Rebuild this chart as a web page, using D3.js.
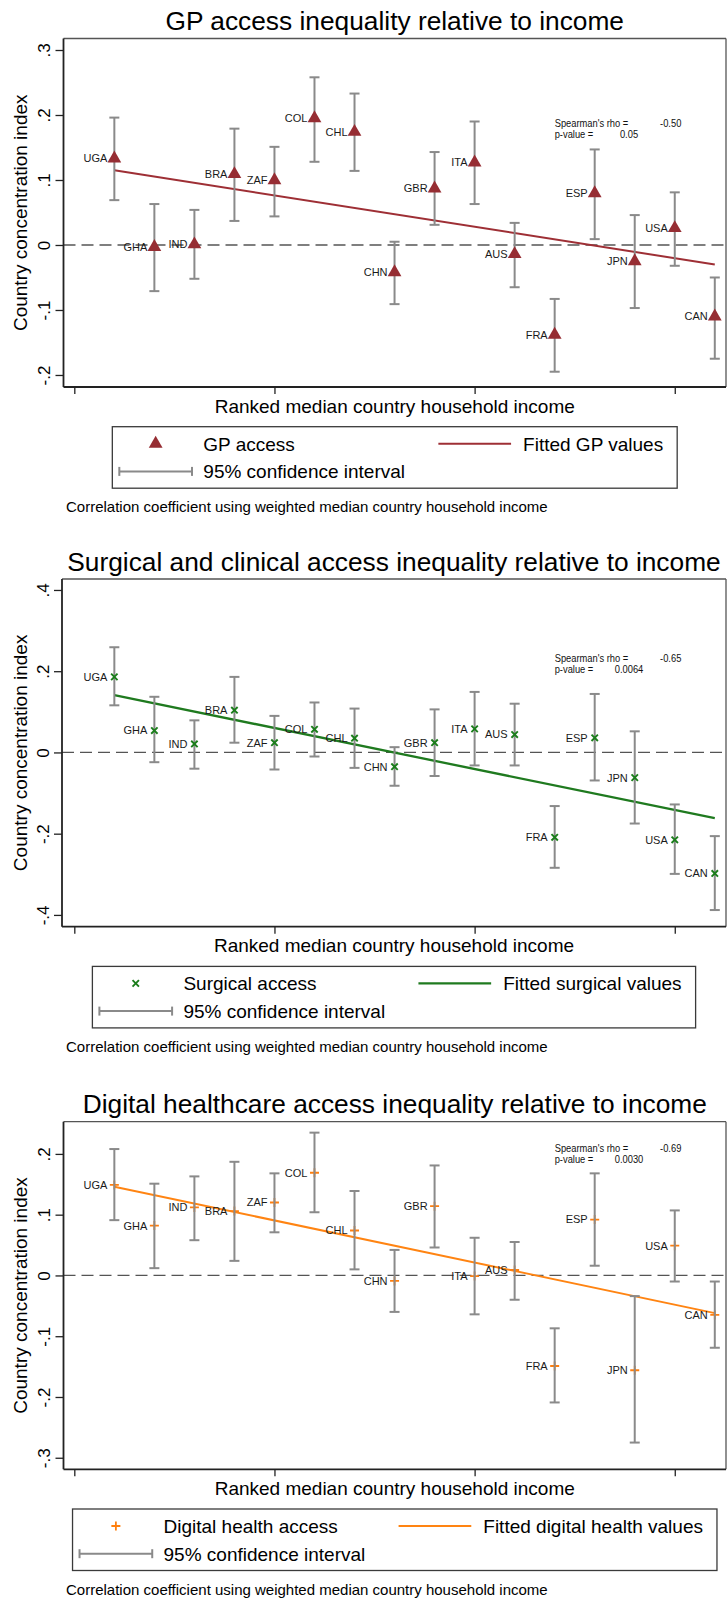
<!DOCTYPE html>
<html>
<head>
<meta charset="utf-8">
<script src="https://cdn.jsdelivr.net/npm/d3@7"></script>
<style>
  html, body { margin: 0; padding: 0; background: #fff; }
  svg { display: block; font-family: "Liberation Sans", Arial, Helvetica, sans-serif; }
</style>
</head>
<body>
<svg id="chart" width="728" height="1598"></svg>
<script>
// ---- Data -------------------------------------------------------------
const countries  = ["UGA","GHA","IND","BRA","ZAF","COL","CHL","CHN","GBR","ITA","AUS","FRA","ESP","JPN","USA","CAN"];
const incomeRank = [1,2,3,4,5,6,7,8,9,10,11,12,13,14,15,16];
const xTickValues = [0, 5, 10, 15];
const fitRanks = [1, 16];

// GP access concentration index with 95% CI
const gpIndex = [0.133,-0.003,0.001,0.109,0.0995,0.195,0.174,-0.042,0.087,0.127,-0.014,-0.138,0.0795,-0.025,0.026,-0.110];
const gpLower = [0.069,-0.071,-0.052,0.037,0.044,0.128,0.114,-0.091,0.031,0.063,-0.065,-0.195,0.009,-0.097,-0.032,-0.175];
const gpUpper = [0.196,0.063,0.054,0.179,0.151,0.258,0.233,0.005,0.143,0.190,0.034,-0.083,0.147,0.046,0.081,-0.050];
const gpFitted = [0.115, -0.030];
const gpTicks = [0.3, 0.2, 0.1, 0, -0.1, -0.2];
const gpTickLabels = [".3", ".2", ".1", "0", "-.1", "-.2"];
const gpRho = "-0.50", gpPValue = "0.05";

// Surgical and clinical access
const surgIndex = [0.186,0.054,0.021,0.104,0.024,0.057,0.035,-0.035,0.024,0.058,0.044,-0.209,0.036,-0.062,-0.215,-0.298];
const surgLower = [0.116,-0.024,-0.040,0.024,-0.042,-0.010,-0.038,-0.082,-0.058,-0.032,-0.032,-0.284,-0.069,-0.175,-0.299,-0.388];
const surgUpper = [0.259,0.137,0.079,0.186,0.090,0.123,0.108,0.013,0.106,0.149,0.120,-0.132,0.144,0.052,-0.128,-0.206];
const surgFitted = [0.141, -0.162];
const surgTicks = [0.4, 0.2, 0, -0.2, -0.4];
const surgTickLabels = [".4", ".2", "0", "-.2", "-.4"];
const surgRho = "-0.65", surgPValue = "0.0064";

// Digital healthcare access
const digIndex = [0.149,0.082,0.112,0.106,0.120,0.169,0.074,-0.009,0.114,-0.001,0.009,-0.149,0.092,-0.156,0.049,-0.065];
const digLower = [0.091,0.012,0.058,0.024,0.071,0.104,0.010,-0.060,0.046,-0.064,-0.040,-0.209,0.016,-0.275,-0.010,-0.119];
const digUpper = [0.208,0.151,0.163,0.187,0.168,0.235,0.139,0.042,0.181,0.062,0.055,-0.087,0.168,-0.034,0.107,-0.010];
const digFitted = [0.146, -0.062];
const digTicks = [0.2, 0.1, 0, -0.1, -0.2, -0.3];
const digTickLabels = [".2", ".1", "0", "-.1", "-.2", "-.3"];
const digRho = "-0.69", digPValue = "0.0030";

// ---- Shared text --------------------------------------------------------
const yTitle = "Country concentration index";
const xTitle = "Ranked median country household income";
const ciLabel = "95% confidence interval";
const footnote = "Correlation coefficient using weighted median country household income";

// ---- Panel definitions ---------------------------------------------------
const panels = [
  { title: "GP access inequality relative to income",
    index: gpIndex, lower: gpLower, upper: gpUpper, fitted: gpFitted,
    ticks: gpTicks, tickLabels: gpTickLabels, rho: gpRho, p: gpPValue,
    marker: "triangle", color: "#962d33", lineColor: "#9e2f35", lineWidth: 2, markersOnTop: true,
    markerLabel: "GP access", fitLabel: "Fitted GP values",
    left: 63.5, top: 38.5, bottom: 387, yDomain: [-0.2185, 0.3177], statOffset: 84.2 },
  { title: "Surgical and clinical access inequality relative to income",
    index: surgIndex, lower: surgLower, upper: surgUpper, fitted: surgFitted,
    ticks: surgTicks, tickLabels: surgTickLabels, rho: surgRho, p: surgPValue,
    marker: "x", color: "#1b7d1b", lineColor: "#1f7a1f", lineWidth: 2.3, markersOnTop: true,
    markerLabel: "Surgical access", fitLabel: "Fitted surgical values",
    left: 62, top: 579, bottom: 926.7, yDomain: [-0.429, 0.427], statOffset: 79.3 },
  { title: "Digital healthcare access inequality relative to income",
    index: digIndex, lower: digLower, upper: digUpper, fitted: digFitted,
    ticks: digTicks, tickLabels: digTickLabels, rho: digRho, p: digPValue,
    marker: "plus", color: "#ff7f0e", lineColor: "#ff8412", lineWidth: 2, markersOnTop: false,
    markerLabel: "Digital health access", fitLabel: "Fitted digital health values",
    left: 63.5, top: 1121.7, bottom: 1469.3, yDomain: [-0.319, 0.253], statOffset: 26.6 }
];

const svg = d3.select("#chart");
const RIGHT = 726;
const x = d3.scaleLinear().domain([-0.27, 16.28]).range([63.5, RIGHT]);
const CI_COLOR = "#8a8a8a";

function drawMarker(sel, type, color) {
  if (type === "triangle") {
    sel.append("path").attr("d", d3.symbol(d3.symbolTriangle, 82)()).attr("fill", color);
  } else if (type === "x") {
    const h = 3.2;
    sel.append("path").attr("d", `M${-h},${-h}L${h},${h}M${-h},${h}L${h},${-h}`)
      .attr("stroke", color).attr("stroke-width", 1.9).attr("fill", "none");
  } else {
    const h = 4.5;
    sel.append("path").attr("d", `M${-h},0L${h},0M0,${-h}L0,${h}`)
      .attr("stroke", color).attr("stroke-width", 1.8).attr("fill", "none");
  }
}

function drawPanel(p) {
  const g = svg.append("g");
  const y = d3.scaleLinear().domain(p.yDomain).range([p.bottom, p.top]);
  const center = (p.left + RIGHT) / 2;

  // title
  g.append("text").attr("x", center).attr("y", p.top - 8.5)
    .attr("text-anchor", "middle").attr("font-size", 26.3).attr("fill", "#000")
    .text(p.title);

  // reference line at zero
  g.append("line").attr("x1", p.left).attr("x2", RIGHT)
    .attr("y1", y(0)).attr("y2", y(0))
    .attr("stroke", "#555").attr("stroke-width", 1.3).attr("stroke-dasharray", "12,6");

  const rows = countries.map((c, i) => ({ c, r: incomeRank[i], v: p.index[i], lo: p.lower[i], hi: p.upper[i] }));

  // fitted line
  g.append("path")
    .attr("d", d3.line().x(d => x(d[0])).y(d => y(d[1]))(fitRanks.map((r, i) => [r, p.fitted[i]])))
    .attr("stroke", p.lineColor).attr("stroke-width", p.lineWidth).attr("fill", "none");

  const ptLayer = g.append("g");
  const ciLayer = g.append("g");
  if (p.markersOnTop) ptLayer.raise();

  // confidence intervals
  const ci = ciLayer.selectAll("g.ci").data(rows).join("g").attr("class", "ci")
    .attr("stroke", CI_COLOR).attr("stroke-width", 2).attr("fill", "none");
  ci.append("line").attr("x1", d => x(d.r)).attr("x2", d => x(d.r))
    .attr("y1", d => y(d.lo)).attr("y2", d => y(d.hi));
  ci.append("line").attr("x1", d => x(d.r) - 5).attr("x2", d => x(d.r) + 5)
    .attr("y1", d => y(d.lo)).attr("y2", d => y(d.lo));
  ci.append("line").attr("x1", d => x(d.r) - 5).attr("x2", d => x(d.r) + 5)
    .attr("y1", d => y(d.hi)).attr("y2", d => y(d.hi));

  // scatter markers + labels
  const pts = ptLayer.selectAll("g.pt").data(rows).join("g").attr("class", "pt")
    .attr("transform", d => `translate(${x(d.r)},${y(d.v)})`);
  pts.each(function () { drawMarker(d3.select(this), p.marker, p.color); });
  pts.append("text").attr("x", -7).attr("y", 3.9)
    .attr("text-anchor", "end").attr("font-size", 11).attr("fill", "#1a1a1a")
    .text(d => d.c);

  // correlation annotation (condensed type)
  const sx = x(12.0), sy = p.top + p.statOffset;
  const st = g.append("g").attr("font-size", 11.4).attr("fill", "#111");
  const note = (tx, ty, txt, anchor) => st.append("text")
    .attr("transform", `translate(${tx},${ty}) scale(0.82,1)`)
    .attr("text-anchor", anchor).text(txt);
  note(sx, sy + 4, "Spearman's rho =", "start");
  note(670.7, sy + 4, p.rho, "middle");
  note(sx, sy + 14.8, "p-value =", "start");
  note(629, sy + 14.8, p.p, "middle");

  // frame
  g.append("line").attr("x1", p.left).attr("x2", RIGHT).attr("y1", p.top).attr("y2", p.top)
    .attr("stroke", "#555").attr("stroke-width", 1.3);
  g.append("line").attr("x1", RIGHT).attr("x2", RIGHT).attr("y1", p.top).attr("y2", p.bottom)
    .attr("stroke", "#555").attr("stroke-width", 1.3);

  // y axis
  const yAxis = g.append("g").attr("transform", `translate(${p.left},0)`)
    .call(d3.axisLeft(y).tickValues(p.ticks).tickSize(8)
      .tickFormat((d, i) => p.tickLabels[i]));
  yAxis.select(".domain").remove();
  yAxis.attr("font-family", null);
  yAxis.selectAll(".tick line").attr("stroke", "#222").attr("stroke-width", 1.3);
  yAxis.selectAll(".tick text")
    .attr("transform", "rotate(-90)").attr("x", 0).attr("y", -13.5).attr("dy", 0)
    .attr("text-anchor", "middle").attr("font-size", 17).attr("fill", "#000");

  // x axis (unlabelled ticks)
  const xAxis = g.append("g").attr("transform", `translate(0,${p.bottom})`)
    .call(d3.axisBottom(x).tickValues(xTickValues).tickSize(7).tickFormat(""));
  xAxis.select(".domain").remove();
  xAxis.selectAll(".tick line").attr("stroke", "#222").attr("stroke-width", 1.3);

  // axis lines
  g.append("line").attr("x1", p.left).attr("x2", p.left).attr("y1", p.top).attr("y2", p.bottom)
    .attr("stroke", "#222").attr("stroke-width", 1.8);
  g.append("line").attr("x1", p.left).attr("x2", RIGHT).attr("y1", p.bottom).attr("y2", p.bottom)
    .attr("stroke", "#222").attr("stroke-width", 1.8);

  // axis titles
  g.append("text").attr("transform", `translate(27,${(p.top + p.bottom) / 2}) rotate(-90)`)
    .attr("text-anchor", "middle").attr("font-size", 19).attr("fill", "#000").text(yTitle);
  g.append("text").attr("x", center).attr("y", p.bottom + 25.7)
    .attr("text-anchor", "middle").attr("font-size", 19).attr("fill", "#000").text(xTitle);

  drawLegend(p, center);
}

function drawLegend(p, center) {
  const fs = 19;
  const top = p.bottom + 39.7;
  const lg = svg.append("g").attr("font-size", fs).attr("fill", "#000");
  const measure = t => {
    const el = lg.append("text").text(t);
    const w = el.node().getComputedTextLength();
    el.remove();
    return w;
  };
  const col1W = Math.max(measure(p.markerLabel), measure(ciLabel));
  const col2W = measure(p.fitLabel);
  const keyW = 72.7, padL = 7, gapKL = 11.3, gapCol = 33.3, gapKL2 = 12, padR = 14;
  const width = padL + keyW + gapKL + col1W + gapCol + keyW + gapKL2 + col2W + padR;
  const left = center - width / 2;
  const r1 = top + 17, r2 = top + 44.7, h = 61.5;

  lg.append("rect").attr("x", left).attr("y", top).attr("width", width).attr("height", h)
    .attr("fill", "#fff").attr("stroke", "#3a3a3a").attr("stroke-width", 1.3);

  const k1 = left + padL;
  const t1 = k1 + keyW + gapKL;
  const k2 = t1 + col1W + gapCol;
  const t2 = k2 + keyW + gapKL2;

  // marker key
  const mk = lg.append("g").attr("transform", `translate(${k1 + keyW / 2},${r1})`);
  drawMarker(mk, p.marker, p.color);
  lg.append("text").attr("x", t1).attr("y", r1 + 6.8).text(p.markerLabel);

  // fitted line key
  lg.append("line").attr("x1", k2).attr("x2", k2 + keyW).attr("y1", r1).attr("y2", r1)
    .attr("stroke", p.lineColor).attr("stroke-width", p.lineWidth);
  lg.append("text").attr("x", t2).attr("y", r1 + 6.8).text(p.fitLabel);

  // confidence interval key
  const ck = lg.append("g").attr("stroke", CI_COLOR).attr("stroke-width", 2);
  ck.append("line").attr("x1", k1).attr("x2", k1 + keyW).attr("y1", r2).attr("y2", r2);
  ck.append("line").attr("x1", k1).attr("x2", k1).attr("y1", r2 - 4.5).attr("y2", r2 + 4.5);
  ck.append("line").attr("x1", k1 + keyW).attr("x2", k1 + keyW).attr("y1", r2 - 4.5).attr("y2", r2 + 4.5);
  lg.append("text").attr("x", t1).attr("y", r2 + 6.8).text(ciLabel);

  // note under legend
  svg.append("text").attr("x", 66).attr("y", top + h + 24)
    .attr("font-size", 15).attr("fill", "#000").text(footnote);
}

panels.forEach(drawPanel);
</script>
</body>
</html>
